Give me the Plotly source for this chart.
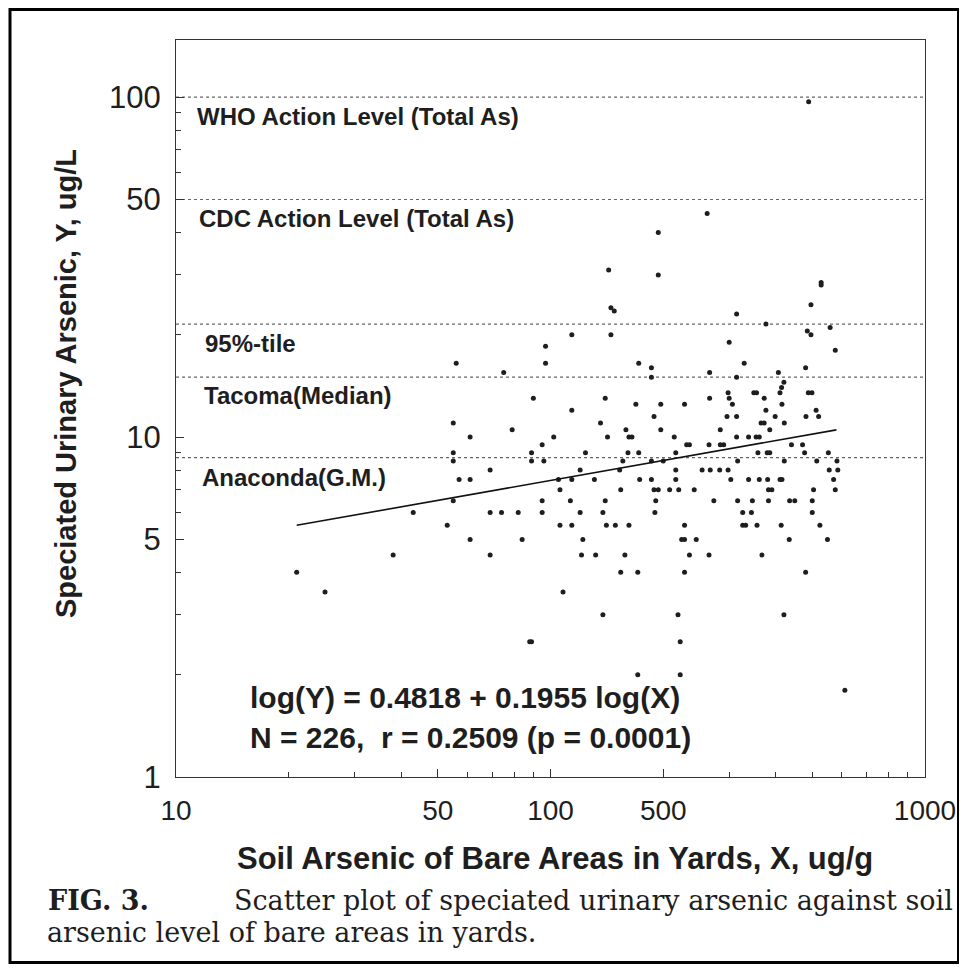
import plotly.graph_objects as go

# ---------------- data ----------------
# soil arsenic of bare areas (ug/g) and speciated urinary arsenic (ug/L),
# listed row by row (same order in both lists)
soil_x = [
    489,
    262,
    194,
    143,
    194,
    528, 528,
    496,
    145, 148,
    314,
    376,
    558,
    485,
    114, 145, 496,
    300,
    97,
    576,
    56, 97, 172, 329,
    186, 480,
    75, 266, 406,
    186, 314,
    420,
    414,
    298, 349, 355, 410, 488, 499,
    90, 140, 266, 300, 372,
    169, 197, 228, 306, 415,
    114, 376, 512,
    189, 296, 314, 398, 481, 520,
    55, 136, 365, 372, 421,
    79, 159, 197, 284, 385,
    61, 102, 142, 162, 165, 214, 314, 338, 354, 361,
    95, 231, 235, 265, 284, 290, 440, 471,
    55, 89, 124, 161, 172, 216, 358, 379, 385, 477, 552,
    55, 89, 96, 156, 186, 200, 316, 421, 514, 582,
    69, 120, 153, 216, 254, 267, 283, 298, 555, 585,
    57, 61, 105, 114, 131, 173, 186, 216, 303, 338, 361, 380, 410, 415, 570,
    106, 154, 189, 194, 208, 220, 242, 382, 390, 504, 576,
    55, 95, 113, 140, 191, 273, 316, 346, 382, 435, 449, 500,
    43, 69, 74, 82, 95, 120, 138, 190, 326, 344, 500,
    53, 106, 114, 141, 149, 162, 228, 326, 332, 356, 413, 524,
    61, 84, 122, 224, 228, 245, 434, 549,
    38, 69, 121, 132, 158, 235, 265, 367,
    21, 154, 171, 228, 480,
    25, 108,
    138, 219, 420,
    88, 89, 222,
    171, 222,
    611,
]
urine_y = [
    97,
    45.5,
    40,
    31,
    30,
    28.5, 28,
    24.5,
    24, 23.5,
    23,
    21.5,
    21,
    20.5,
    20, 20, 20,
    19,
    18.5,
    18,
    16.5, 16.5, 16.5, 16.5,
    16, 16,
    15.5, 15.5, 15.5,
    15, 15,
    14.5,
    14,
    13.5, 13.5, 13.5, 13.5, 13.5, 13.5,
    13, 13, 13, 13, 13,
    12.5, 12.5, 12.5, 12.5, 12.5,
    12, 12, 12,
    11.5, 11.5, 11.5, 11.5, 11.5, 11.5,
    11, 11, 11, 11, 11,
    10.5, 10.5, 10.5, 10.5, 10.5,
    10, 10, 10, 10, 10, 10, 10, 10, 10, 10,
    9.5, 9.5, 9.5, 9.5, 9.5, 9.5, 9.5, 9.5,
    9, 9, 9, 9, 9, 9, 9, 9, 9, 9, 9,
    8.5, 8.5, 8.5, 8.5, 8.5, 8.5, 8.5, 8.5, 8.5, 8.5,
    8, 8, 8, 8, 8, 8, 8, 8, 8, 8,
    7.5, 7.5, 7.5, 7.5, 7.5, 7.5, 7.5, 7.5, 7.5, 7.5, 7.5, 7.5, 7.5, 7.5, 7.5,
    7, 7, 7, 7, 7, 7, 7, 7, 7, 7, 7,
    6.5, 6.5, 6.5, 6.5, 6.5, 6.5, 6.5, 6.5, 6.5, 6.5, 6.5, 6.5,
    6, 6, 6, 6, 6, 6, 6, 6, 6, 6, 6,
    5.5, 5.5, 5.5, 5.5, 5.5, 5.5, 5.5, 5.5, 5.5, 5.5, 5.5, 5.5,
    5, 5, 5, 5, 5, 5, 5, 5,
    4.5, 4.5, 4.5, 4.5, 4.5, 4.5, 4.5, 4.5,
    4, 4, 4, 4, 4,
    3.5, 3.5,
    3, 3, 3,
    2.5, 2.5, 2.5,
    2, 2,
    1.8,
]

# regression line endpoints, log(Y) = 0.4818 + 0.1955 log(X)
fit_x = [21, 580]
fit_y = [5.5, 10.5]

# horizontal reference levels (ug/L) and their labels
ref_levels = [100, 50, 21.5, 15, 8.7]
ref_labels = ["WHO Action Level (Total As)", "CDC Action Level (Total As)",
              "95%-tile", "Tacoma(Median)", "Anaconda(G.M.)"]

# axis ticks as printed in the figure (the original prints "500" under the 200 tick)
x_tick_vals = [10, 50, 100, 200, 1000]
x_tick_text = ["10", "50", "100", "500", "1000"]
x_minor_vals = [20, 30, 40, 60, 70, 80, 90, 300, 400, 500, 600, 700, 800, 900]
y_tick_vals = [1, 5, 10, 50, 100]
y_tick_text = ["1", "5", "10", "50", "100"]
y_minor_vals = [2, 3, 4, 6, 7, 8, 9, 20, 30, 40, 60, 70, 80, 90]

eq_lines = ["log(Y) = 0.4818 + 0.1955 log(X)",
            "N = 226,  r = 0.2509 (p = 0.0001)"]
x_title = "Soil Arsenic of Bare Areas in Yards, X, ug/g"
y_title = "Speciated Urinary Arsenic, Y, ug/L"
caption_tag = "FIG. 3."
caption_1 = "Scatter plot of speciated urinary arsenic against soil"
caption_2 = "arsenic level of bare areas in yards."

# ---------------- layout geometry (screen pixels) ----------------
# the page body keeps its default 8 px margin, so the figure is drawn 8 px in
OFF = 8
W, H = 967 - OFF, 970 - OFF
L, R, T, B = 176, 925, 40, 777          # plot frame on screen
PW, PH = R - L, B - T
Y_TOP = 2 + (97 - T) / 339.0            # log10 value at the top of the frame


def sx(x):
    return (x - L) / PW


def sy(y):
    return (B - y) / PH


SANS = "Liberation Sans, Arial, sans-serif"
SERIF = "DejaVu Serif, serif"
INK = "#1e1e1e"

fig = go.Figure()

fig.add_trace(go.Scatter(
    x=soil_x, y=urine_y, mode="markers",
    marker=dict(size=5, color=INK),
    showlegend=False, hoverinfo="x+y"))

fig.add_trace(go.Scatter(
    x=fit_x, y=fit_y, mode="lines",
    line=dict(color="#111111", width=1.6),
    showlegend=False, hoverinfo="skip"))

for lvl in ref_levels:
    fig.add_shape(type="line", xref="paper", x0=0, x1=1, yref="y", y0=lvl, y1=lvl,
                  line=dict(color="#666666", width=1.2, dash="dot"), layer="below")

label_pos = [(195, 117), (197, 218), (203, 343), (202, 395), (200, 478)]
for txt, (lx, ly) in zip(ref_labels, label_pos):
    fig.add_annotation(text="<b>%s</b>" % txt, xref="paper", yref="paper",
                       x=sx(lx), y=sy(ly), xanchor="left", yanchor="middle",
                       showarrow=False, font=dict(family=SANS, size=24, color=INK))

for txt, ly in zip(eq_lines, [697, 737]):
    fig.add_annotation(text="<b>%s</b>" % txt, xref="paper", yref="paper",
                       x=sx(248), y=sy(ly), xanchor="left", yanchor="middle",
                       showarrow=False, font=dict(family=SANS, size=30, color=INK))

# axis titles
fig.add_annotation(text="<b>%s</b>" % x_title, xref="paper", yref="paper",
                   x=sx(555), y=sy(858), xanchor="center", yanchor="middle",
                   showarrow=False, font=dict(family=SANS, size=31, color=INK))
fig.add_annotation(text="<b>%s</b>" % y_title, xref="paper", yref="paper",
                   x=sx(66), y=sy(384), xanchor="center", yanchor="middle",
                   textangle=-90, showarrow=False,
                   font=dict(family=SANS, size=29, color=INK))

# caption
fig.add_annotation(text="<b>%s</b>" % caption_tag, xref="paper", yref="paper",
                   x=sx(46), y=sy(900), xanchor="left", yanchor="middle",
                   showarrow=False, font=dict(family=SERIF, size=27, color=INK))
fig.add_annotation(text=caption_1, xref="paper", yref="paper",
                   x=sx(232), y=sy(900), xanchor="left", yanchor="middle",
                   showarrow=False, font=dict(family=SERIF, size=27, color=INK))
fig.add_annotation(text=caption_2, xref="paper", yref="paper",
                   x=sx(45), y=sy(932), xanchor="left", yanchor="middle",
                   showarrow=False, font=dict(family=SERIF, size=27, color=INK))

# outer page frame
fig.add_shape(type="rect", xref="paper", yref="paper",
              x0=sx(10), x1=sx(958.5), y0=sy(962.5), y1=sy(9.5),
              line=dict(color="black", width=3), fillcolor="rgba(0,0,0,0)")

axis_common = dict(
    type="log", showgrid=False, zeroline=False,
    showline=True, linecolor="#333333", linewidth=1.2, mirror=True,
    ticks="inside", ticklen=8, tickwidth=1, tickcolor="#333333",
    automargin=False,
)

fig.update_layout(
    width=W, height=H,
    margin=dict(l=L - OFF, r=W - (R - OFF), t=T - OFF, b=H - (B - OFF)),
    paper_bgcolor="white", plot_bgcolor="white",
    showlegend=False,
    xaxis=dict(
        range=[1, 3], tickmode="array", tickvals=x_tick_vals, ticktext=x_tick_text,
        tickfont=dict(family=SANS, size=28, color=INK), ticklabelstandoff=8,
        minor=dict(tickmode="array", tickvals=x_minor_vals, ticks="inside",
                   ticklen=5, tickcolor="#333333", showgrid=False),
        **axis_common),
    yaxis=dict(
        range=[0, Y_TOP], tickmode="array", tickvals=y_tick_vals, ticktext=y_tick_text,
        tickfont=dict(family=SANS, size=31, color=INK), ticklabelstandoff=8,
        minor=dict(tickmode="array", tickvals=y_minor_vals, ticks="inside",
                   ticklen=5, tickcolor="#333333", showgrid=False),
        **axis_common),
)

fig.write_html("out.html")
